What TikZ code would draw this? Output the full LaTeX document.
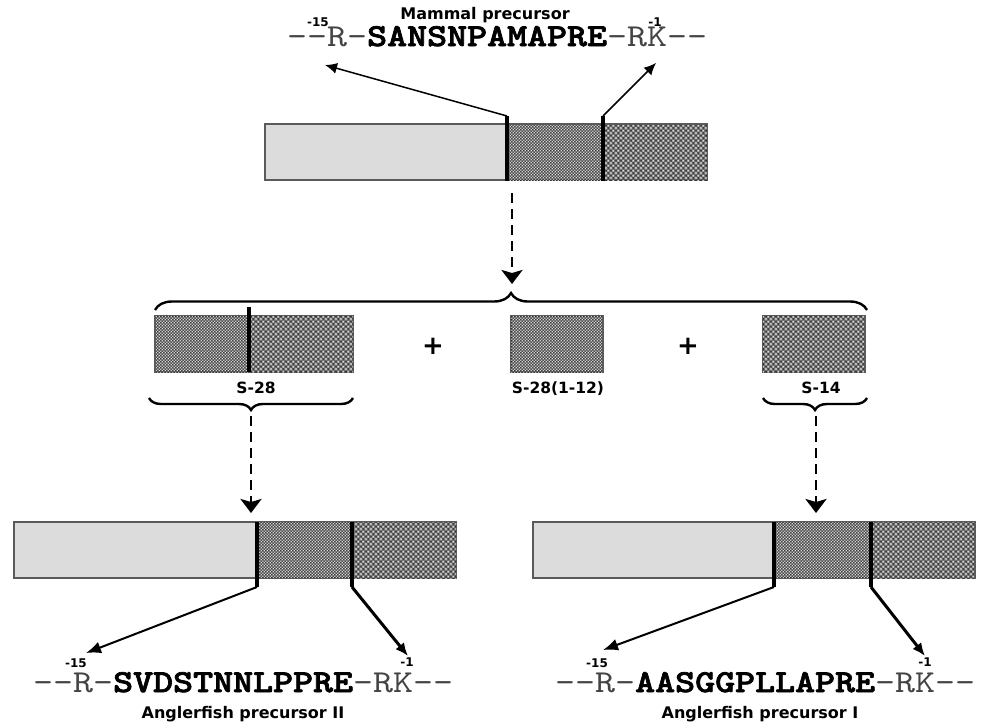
\documentclass[tikz,border=0pt]{standalone}
\usepackage{fontspec}
\setmainfont{DejaVu Sans}
\newfontfamily\seqfont{lmmono10-regular.otf}[BoldFont=lmmonolt10-bold.otf,BoldFeatures={FakeBold=2.2},FakeStretch=1.19]
\usetikzlibrary{patterns.meta,decorations.pathreplacing,arrows.meta,calc}

\tikzdeclarepattern{name=finedots,type=uncolored,
  bounding box={(0pt,0pt) and (3pt,3pt)},tile size={(3pt,3pt)},
  code={\fill (0.75pt,0.75pt) circle (0.6pt); \fill (2.25pt,2.0pt) circle (0.5pt);}}
\tikzdeclarepattern{name=finedark,type=uncolored,
  bounding box={(0pt,0pt) and (3pt,3pt)},tile size={(3pt,3pt)},
  code={\fill (2.25pt,0.75pt) circle (0.5pt); \fill (0.9pt,2.25pt) circle (0.4pt);}}
\tikzdeclarepattern{name=coarsewhite,type=uncolored,
  bounding box={(0pt,0pt) and (5pt,5pt)},tile size={(5pt,5pt)},
  code={\fill (1.25pt,1.25pt) circle (1.05pt); \fill (3.75pt,3.75pt) circle (1.05pt);}}
\tikzdeclarepattern{name=coarseblack,type=uncolored,
  bounding box={(0pt,0pt) and (5pt,5pt)},tile size={(5pt,5pt)},
  code={\fill (3.75pt,1.25pt) circle (0.8pt); \fill (1.25pt,3.75pt) circle (0.8pt);}}

\definecolor{plaingray}{HTML}{DCDCDC}
\definecolor{edgegray}{HTML}{5A5A5A}
\definecolor{seqgray}{HTML}{444444}

\tikzset{
  seg/.style 2 args={anchor=north west,inner sep=0pt,outer sep=0pt,
     minimum width=#1,minimum height=#2,draw=edgegray,line width=1.1pt},
  plainseg/.style={fill=plaingray},
  fineseg/.style={fill=black!52,
     postaction={pattern=finedots,pattern color=white},
     postaction={pattern=finedark,pattern color=black}},
  coarseseg/.style={fill=black!55,
     postaction={pattern=coarsewhite,pattern color=white},
     postaction={pattern=coarseblack,pattern color=black}},
  cut/.style={line width=4pt},
  thinarrow/.style={line width=1.5pt,-{Latex[length=12pt,width=11pt]}},
  midarrow/.style={line width=2pt,-{Latex[length=15pt,width=12pt]}},
  thickarrow/.style={line width=3pt,-{Latex[length=13pt,width=11pt]}},
  dasharrow/.style={line width=2.8pt,dash pattern=on 10pt off 6pt,
     -{Stealth[length=14pt,width=21pt,inset=3pt]}},
  bigbrace/.style={decorate,decoration={brace,amplitude=#1},line width=2.4pt},
  title/.style={font=\bfseries\fontsize{16}{18}\selectfont,inner sep=0pt,text depth=3.5pt},
  lbl/.style={font=\bfseries\fontsize{15.5}{18}\selectfont,inner sep=0pt},
  num/.style={font=\bfseries\fontsize{12}{14}\selectfont,inner sep=0pt,anchor=base,
     text height=8.5pt,text depth=0pt},
  seq/.style={font=\seqfont\fontsize{32}{36}\selectfont,inner sep=0pt,anchor=base west,
     text height=19pt,text depth=0pt},
  plus/.style={font=\bfseries\fontsize{26}{28}\selectfont,inner sep=0pt}
}
\newcommand{\seqtext}[1]{{\color{seqgray}--R-}\textbf{#1}{\color{seqgray}-RK--}}

\begin{document}
\begin{tikzpicture}[x=1pt,y=-1pt]
\useasboundingbox (0,0) rectangle (982,724);

% ---------- top: mammal ----------
\node[title,anchor=base] (mtitle) at (485,19.5) {Mammal precursor};
\node[seq] (mseq) at (287,46) {\seqtext{SANSNPAMAPRE}};
\node[num] (m15) at (318,26) {-15};
\node[num] (m1) at (655,26) {-1};

\node[seg={242pt}{56pt},plainseg] (mA) at (265,124) {};
\node[seg={96pt}{56pt},fineseg] (mB) at (507,124) {};
\node[seg={104pt}{56pt},coarseseg] (mC) at (603,124) {};
\coordinate (mc1) at (507,116);
\coordinate (mc2) at (603,116);
\draw[cut] (mc1) -- (507,181);
\draw[cut] (mc2) -- (603,181);
\coordinate (mt1) at (325,65);
\coordinate (mt2) at (656,63);
\draw[thinarrow] (mc1) -- (mt1);
\draw[thinarrow] (mc2) -- (mt2);

\coordinate (d0) at (512,193);
\coordinate (d0e) at (512,284);
\draw[dasharrow] (d0) -- (d0e);

% ---------- big brace ----------
\coordinate (bb1) at (867,310);
\coordinate (bb2) at (155,310);
\draw[bigbrace=17pt] (bb2) -- (bb1);

% ---------- middle products ----------
\node[seg={94pt}{56pt},fineseg] (s28a) at (155,316) {};
\node[seg={104pt}{56pt},coarseseg] (s28b) at (249,316) {};
\draw[cut] (249,307) -- (249,372);
\node[plus] (p1) at (433,346) {+};
\node[seg={92pt}{56pt},fineseg] (s12) at (511,316) {};
\node[plus] (p2) at (688,346) {+};
\node[seg={102pt}{56pt},coarseseg] (s14) at (763,316) {};

\node[lbl,anchor=base] (l28) at (256,393) {S-28};
\node[lbl,anchor=base] (l12) at (558,393) {S-28(1-12)};
\node[lbl,anchor=base] (l14) at (821,393) {S-14};

\coordinate (lb1) at (149,398);
\coordinate (lb2) at (353,398);
\draw[bigbrace=12pt] (lb2) -- (lb1);
\coordinate (rb1) at (763,398);
\coordinate (rb2) at (867,398);
\draw[bigbrace=12pt] (rb2) -- (rb1);

\coordinate (dl) at (251,416);
\coordinate (dle) at (251,513);
\draw[dasharrow] (dl) -- (dle);
\coordinate (dr) at (816,416);
\coordinate (dre) at (816,513);
\draw[dasharrow] (dr) -- (dre);

% ---------- bottom left: anglerfish II ----------
\node[seg={243pt}{56pt},plainseg] (aA) at (14,522) {};
\node[seg={95pt}{56pt},fineseg] (aB) at (257,522) {};
\node[seg={104pt}{56pt},coarseseg] (aC) at (352,522) {};
\coordinate (ac1) at (257,587);
\coordinate (ac2) at (352,587);
\draw[cut] (257,522) -- (ac1);
\draw[cut] (352,522) -- (ac2);
\coordinate (at1) at (86,653);
\coordinate (at2) at (408,656);
\draw[midarrow] (ac1) -- (at1);
\draw[thickarrow] (ac2) -- (at2);
\node[num] (a15) at (76,667) {-15};
\node[num] (a1) at (407,666) {-1};
\node[seq] (aseq) at (33,692) {\seqtext{SVDSTNNLPPRE}};
\node[title,anchor=base] (atitle) at (243,718) {Anglerfish precursor II};

% ---------- bottom right: anglerfish I ----------
\node[seg={241pt}{56pt},plainseg] (bA) at (533,522) {};
\node[seg={97pt}{56pt},fineseg] (bB) at (774,522) {};
\node[seg={104pt}{56pt},coarseseg] (bC) at (871,522) {};
\coordinate (bc1) at (774,587);
\coordinate (bc2) at (871,587);
\draw[cut] (774,522) -- (bc1);
\draw[cut] (871,522) -- (bc2);
\coordinate (bt1) at (603,650);
\coordinate (bt2) at (925,656);
\draw[midarrow] (bc1) -- (bt1);
\draw[thickarrow] (bc2) -- (bt2);
\node[num] (b15) at (597,667) {-15};
\node[num] (b1) at (925,666) {-1};
\node[seq] (bseq) at (555,692) {\seqtext{AASGGPLLAPRE}};
\node[title,anchor=base] (btitle) at (760,718) {Anglerfish precursor I};
\end{tikzpicture}
\end{document}
